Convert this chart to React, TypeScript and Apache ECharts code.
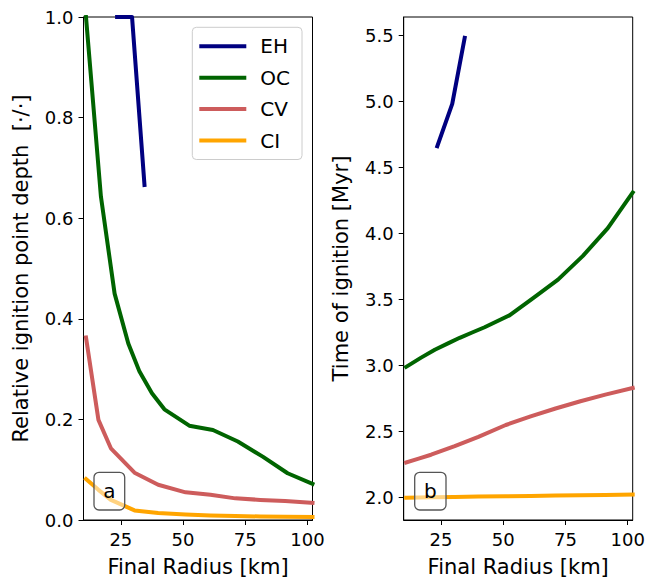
import React, { useEffect, useRef } from "react";
import * as echarts from "echarts";

// EH
const ehRadius = [23.5, 29.5, 34.5];
const ehDepth = [1.0, 1.0, 0.666];
const ehTime = [4.66, 4.98, 5.48];
// OC
const ocRadius = [11, 17, 22.5, 28, 32.5, 37.5, 42.5, 52.5, 62, 72, 82, 92, 102];
const ocDepth = [1.0, 0.643, 0.45, 0.351, 0.295, 0.252, 0.22, 0.1875, 0.179, 0.156, 0.126, 0.093, 0.072];
const ocTime = [2.99, 3.06, 3.12, 3.17, 3.21, 3.25, 3.29, 3.38, 3.51, 3.65, 3.83, 4.04, 4.31];
// CV
const cvRadius = [11, 16, 21, 30.5, 40, 51, 61, 71, 81, 91, 102];
const cvDepth = [0.363, 0.199, 0.1425, 0.094, 0.07, 0.055, 0.05, 0.043, 0.04, 0.038, 0.034];
const cvTime = [2.266, 2.295, 2.325, 2.39, 2.46, 2.55, 2.615, 2.675, 2.73, 2.78, 2.83];
// CI
const ciRadius = [11, 16, 21, 30.5, 40, 51, 61, 71, 81, 91, 102];
const ciDepth = [0.0815, 0.06, 0.04, 0.019, 0.014, 0.011, 0.009, 0.008, 0.007, 0.0065, 0.006];
const ciTime = [2.0, 2.001, 2.003, 2.006, 2.008, 2.011, 2.013, 2.016, 2.018, 2.021, 2.024];

const xTicks = [25, 50, 75, 100];
const yTicksRight = [2.0, 2.5, 3.0, 3.5, 4.0, 4.5, 5.0, 5.5];

const names = ["EH", "OC", "CV", "CI"];
const colors = ["#000080", "#006400", "#CD5C5C", "#FFA500"];

const FONT = "DejaVu Sans";
const TICK_FONT = 18;

const zip = (xs: number[], ys: number[]) => xs.map((x, i) => [x, ys[i]]);

export default function App() {
  const ref = useRef<HTMLDivElement>(null);
  useEffect(() => {
    if (!ref.current) return;
    const chart = echarts.init(ref.current, undefined, { renderer: "svg" });

    const xAxisBase = (gridIndex: number) => ({
      type: "value",
      gridIndex,
      min: 10,
      max: 102,
      name: "Final Radius [km]",
      nameLocation: "middle",
      nameGap: 36,
      nameTextStyle: { fontFamily: FONT, fontSize: 21, color: "#000" },
      axisLine: { show: true, onZero: false, lineStyle: { color: "#000", width: 1 } },
      axisTick: { show: true, length: 5, customValues: xTicks, lineStyle: { color: "#000", width: 1 } },
      axisLabel: {
        show: true,
        customValues: xTicks,
        margin: 10,
        fontFamily: FONT,
        fontSize: TICK_FONT,
        color: "#000",
      },
      splitLine: { show: false },
    });

    const depthData = [ehDepth, ocDepth, cvDepth, ciDepth];
    const timeData = [ehTime, ocTime, cvTime, ciTime];
    const radii = [ehRadius, ocRadius, cvRadius, ciRadius];

    const series: any[] = [];
    names.forEach((n, i) => {
      series.push({
        type: "line",
        name: n,
        xAxisIndex: 0,
        yAxisIndex: 0,
        data: zip(radii[i], depthData[i]),
        showSymbol: false,
        symbol: "none",
        color: colors[i],
        lineStyle: { width: 4, color: colors[i], cap: "square", join: "round" },
        clip: true,
        z: 2 + (4 - i),
      });
    });
    names.forEach((n, i) => {
      series.push({
        type: "line",
        name: n,
        xAxisIndex: 1,
        yAxisIndex: 1,
        data: zip(radii[i], timeData[i]),
        showSymbol: false,
        symbol: "none",
        color: colors[i],
        lineStyle: { width: 4, color: colors[i], cap: "square", join: "round" },
        clip: true,
        z: 2 + (4 - i),
      });
    });

    const option: any = {
      animation: false,
      backgroundColor: "#fff",
      grid: [
        { left: 83.5, top: 17, width: 229, height: 503, show: true, borderColor: "#000", borderWidth: 1, backgroundColor: "transparent", outerBoundsMode: "none", containLabel: false },
        { left: 403.7, top: 17, width: 229, height: 503, show: true, borderColor: "#000", borderWidth: 1, backgroundColor: "transparent", outerBoundsMode: "none", containLabel: false },
      ],
      xAxis: [xAxisBase(0), xAxisBase(1)],
      yAxis: [
        {
          type: "value",
          gridIndex: 0,
          min: 0,
          max: 1,
          interval: 0.2,
          name: "Relative ignition point depth  [·/·]",
          nameLocation: "middle",
          nameGap: 52,
          nameTextStyle: { fontFamily: FONT, fontSize: 21, color: "#000" },
          axisLine: { show: true, onZero: false, lineStyle: { color: "#000", width: 1 } },
          axisTick: { show: true, length: 5, lineStyle: { color: "#000", width: 1 } },
          axisLabel: {
            margin: 10,
            fontFamily: FONT,
            fontSize: TICK_FONT,
            color: "#000",
            formatter: (v: number) => v.toFixed(1),
          },
          splitLine: { show: false },
        },
        {
          type: "value",
          gridIndex: 1,
          min: 1.831,
          max: 5.638,
          name: "Time of ignition [Myr]",
          nameLocation: "middle",
          nameGap: 52,
          nameTextStyle: { fontFamily: FONT, fontSize: 21, color: "#000" },
          axisLine: { show: true, onZero: false, lineStyle: { color: "#000", width: 1 } },
          axisTick: { show: true, length: 5, customValues: yTicksRight, lineStyle: { color: "#000", width: 1 } },
          axisLabel: {
            customValues: yTicksRight,
            margin: 10,
            fontFamily: FONT,
            fontSize: TICK_FONT,
            color: "#000",
            formatter: (v: number) => v.toFixed(1),
          },
          splitLine: { show: false },
        },
      ],
      legend: {
        data: names,
        orient: "vertical",
        left: 192.3,
        top: 27.3,
        padding: [9, 12, 9, 7],
        itemGap: 11.4,
        itemWidth: 47,
        itemHeight: 4,
        icon: "rect",
        borderColor: "#cccccc",
        borderWidth: 1,
        borderRadius: 4,
        backgroundColor: "rgba(255,255,255,0.8)",
        selectedMode: false,
        textStyle: {
          fontFamily: FONT,
          fontSize: 20,
          lineHeight: 20,
          color: "#000",
          padding: [0, 0, 0, 9],
        },
      },
      graphic: [
        {
          type: "group",
          z: 100,
          children: [
            {
              type: "rect",
              shape: { x: 94, y: 472.3, width: 30.7, height: 37.7, r: 5 },
              style: { fill: "rgba(255,255,255,0.5)", stroke: "#555", lineWidth: 1.3 },
              z: 100,
            },
            {
              type: "text",
              x: 109.3,
              y: 491,
              style: { text: "a", font: `20px '${FONT}'`, fill: "#000", align: "center", verticalAlign: "middle" },
              z: 101,
            },
            {
              type: "rect",
              shape: { x: 414.7, y: 472.3, width: 31.3, height: 37.7, r: 5 },
              style: { fill: "rgba(255,255,255,0.5)", stroke: "#555", lineWidth: 1.3 },
              z: 100,
            },
            {
              type: "text",
              x: 430.3,
              y: 491,
              style: { text: "b", font: `20px '${FONT}'`, fill: "#000", align: "center", verticalAlign: "middle" },
              z: 101,
            },
          ],
        },
      ],
      series,
    };

    chart.setOption(option);
    return () => chart.dispose();
  }, []);

  return <div ref={ref} style={{ width: 657, height: 579, position: "absolute", left: 0, top: 0 }} />;
}
